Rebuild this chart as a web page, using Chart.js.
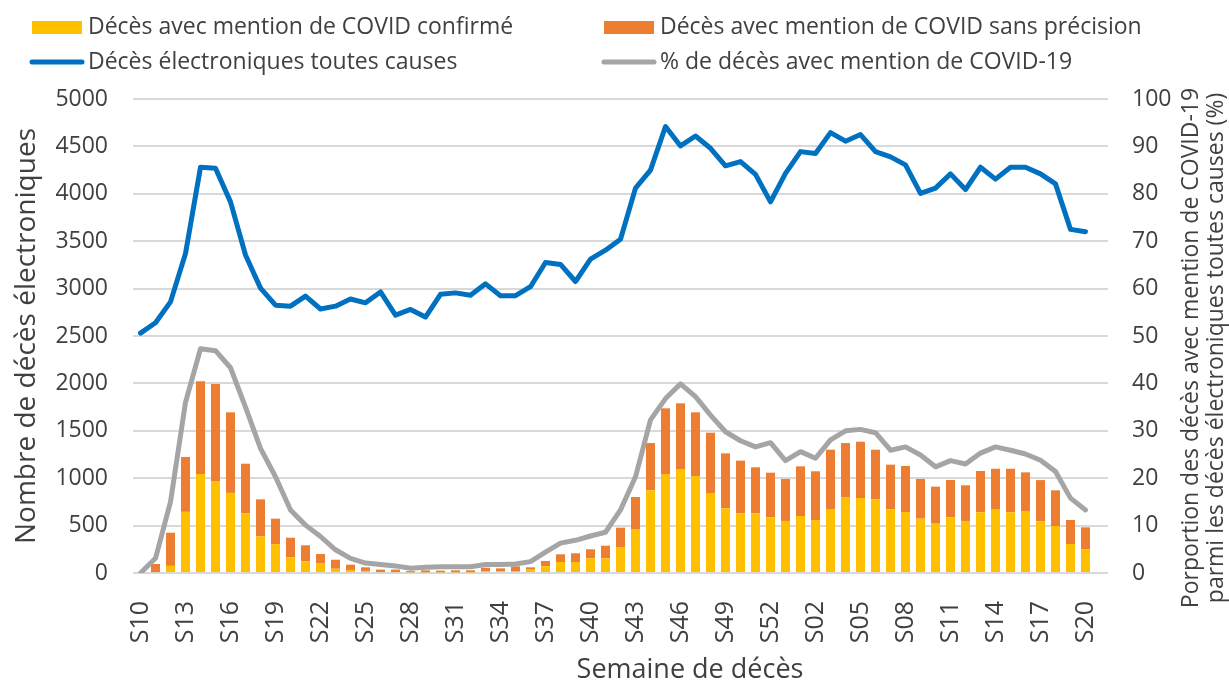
<!DOCTYPE html>
<html lang="fr">
<head>
<meta charset="utf-8">
<title>Décès électroniques et COVID-19</title>
<script src="https://cdn.jsdelivr.net/npm/chart.js@4.4.1/dist/chart.umd.min.js"></script>
<style>
  html, body { margin: 0; padding: 0; background: #fff; }
  #wrap { width: 1229px; height: 685px; }
</style>
</head>
<body>
<div id="wrap"><canvas id="myChart" width="1229" height="685"></canvas></div>
<script>
// semaines de décès : S10 2020 -> S21 2021 (la dernière reste vide)
const semaines = ['S10','S11','S12','S13','S14','S15','S16','S17','S18','S19','S20','S21','S22','S23','S24','S25','S26','S27','S28','S29','S30','S31','S32','S33','S34','S35','S36','S37','S38','S39','S40','S41','S42','S43','S44','S45','S46','S47','S48','S49','S50','S51','S52','S53',
  'S01','S02','S03','S04','S05','S06','S07','S08','S09','S10','S11','S12','S13','S14','S15','S16','S17','S18','S19','S20','S21'];

// décès avec mention de COVID confirmé
const covidConfirme = [0, 10, 75, 645, 1045, 970, 845, 630, 385, 305, 165, 125, 100, 45, 32, 22, 10, 10, 8, 8, 8, 8, 8, 20, 20, 20, 35, 72, 116, 116, 155, 155, 274, 464,
  872, 1044, 1097, 1023, 844, 682, 630, 630, 587, 549, 601, 559, 668, 802, 791, 777, 672, 643, 573, 520, 587, 549, 640, 668, 640, 654, 545, 496, 306, 250, null];

// décès avec mention de COVID sans précision
const covidSansPrecision = [0, 85, 350, 579, 977, 1024, 850, 523, 392, 268, 207, 167, 100, 95, 56, 38, 26, 26, 12, 20, 17, 20, 20, 36, 29, 50, 25, 55, 81, 92, 95, 133, 204, 338,
  499, 693, 693, 672, 636, 580, 555, 485, 471, 443, 524, 514, 633, 569, 594, 524, 471, 486, 419, 391, 394, 376, 436, 432, 460, 408, 435, 376, 253, 232, null];

// décès électroniques toutes causes
const toutesCauses = [2530, 2640, 2860, 3370, 4280, 4270, 3915, 3355, 3005, 2825, 2815, 2920, 2785, 2815, 2890, 2850, 2965, 2720, 2780, 2700, 2940, 2955, 2930, 3050, 2925, 2925, 3020, 3275, 3255, 3075, 3310, 3405, 3520,
  4060, 4250, 4710, 4505, 4610, 4480, 4295, 4340, 4205, 3915, 4215, 4445, 4425, 4645, 4555, 4625, 4445, 4390, 4305, 4005, 4060, 4210, 4045, 4280, 4155, 4280, 4280, 4210, 4105, 3625, 3600, null];

// % de décès avec mention de COVID-19
const pctCovid = [0, 3.1, 15, 36, 47.3, 46.9, 43.3, 35, 26.3, 20.3, 13.3, 10.1, 7.7, 4.9, 3.1, 2.1, 1.8, 1.5, 1.0, 1.2, 1.3, 1.3, 1.3, 1.8, 1.8, 1.9, 2.4, 4.4, 6.3, 6.9, 7.8, 8.6, 13.3,
  20.3, 32.3, 36.8, 39.9, 37.2, 33.3, 29.8, 27.9, 26.6, 27.5, 23.7, 25.6, 24.2, 28.1, 30.0, 30.3, 29.6, 25.9, 26.6, 24.9, 22.4, 23.7, 23.0, 25.3, 26.6, 25.9, 25.1, 23.8, 21.4, 15.8, 13.3, null];

const JAUNE = '#FFC000', ORANGE = '#ED7D31', BLEU = '#0070C0', GRIS = '#A5A5A5';
const TEXTE = '#404040';
const POLICE = "'Open Sans', sans-serif";

// légende sur deux colonnes, dessinée au-dessus du graphique
const legendeItems = [
  { text: 'Décès avec mention de COVID confirmé', color: JAUNE, type: 'box', x: 32, y: 27 },
  { text: 'Décès avec mention de COVID sans précision', color: ORANGE, type: 'box', x: 604, y: 27 },
  { text: 'Décès électroniques toutes causes', color: BLEU, type: 'line', x: 32, y: 62 },
  { text: '% de décès avec mention de COVID-19', color: GRIS, type: 'line', x: 604, y: 62 }
];

const legendePlugin = {
  id: 'legendeColonnes',
  afterDraw(chart) {
    const ctx = chart.ctx;
    ctx.save();
    ctx.font = '23px ' + POLICE;
    ctx.textBaseline = 'middle';
    ctx.textAlign = 'left';
    legendeItems.forEach(it => {
      if (it.type === 'box') {
        ctx.fillStyle = it.color;
        ctx.fillRect(it.x, it.y - 6, 50, 13);
      } else {
        ctx.strokeStyle = it.color;
        ctx.lineWidth = 5;
        ctx.lineCap = 'round';
        ctx.beginPath();
        ctx.moveTo(it.x, it.y);
        ctx.lineTo(it.x + 50, it.y);
        ctx.stroke();
      }
      ctx.fillStyle = TEXTE;
      ctx.fillText(it.text, it.x + 56, it.y);
    });
    ctx.restore();
  }
};

// titre de l'axe de droite (lu de bas en haut) et titre de l'axe des semaines
const titresPlugin = {
  id: 'titres',
  afterDraw(chart) {
    const ctx = chart.ctx;
    const lignes = ['Porportion des décès avec mention de COVID-19', 'parmi les décès électroniques toutes causes (%)'];
    ctx.save();
    ctx.fillStyle = TEXTE;
    ctx.textAlign = 'center';
    ctx.textBaseline = 'middle';
    ctx.font = '23px ' + POLICE;
    lignes.forEach((l, i) => {
      ctx.save();
      ctx.translate(1191 + i * 25, 348);
      ctx.rotate(-Math.PI / 2);
      ctx.fillText(l, 0, 0);
      ctx.restore();
    });
    ctx.font = '27px ' + POLICE;
    ctx.fillText('Semaine de décès', 690, 670);
    ctx.restore();
  }
};

const ctx = document.getElementById('myChart').getContext('2d');
const myChart = new Chart(ctx, {
  type: 'bar',
  data: {
    labels: semaines,
    datasets: [
      {
        type: 'line',
        label: 'Décès électroniques toutes causes',
        data: toutesCauses,
        yAxisID: 'y',
        borderColor: BLEU,
        borderWidth: 5,
        pointRadius: 0,
        tension: 0,
        borderJoinStyle: 'round',
        borderCapStyle: 'round',
        order: 0
      },
      {
        type: 'line',
        label: '% de décès avec mention de COVID-19',
        data: pctCovid,
        yAxisID: 'y2',
        borderColor: GRIS,
        borderWidth: 5,
        pointRadius: 0,
        tension: 0,
        borderJoinStyle: 'round',
        borderCapStyle: 'round',
        order: 0
      },
      {
        label: 'Décès avec mention de COVID confirmé',
        data: covidConfirme,
        backgroundColor: JAUNE,
        yAxisID: 'y',
        stack: 'covid',
        barPercentage: 0.6,
        categoryPercentage: 1,
        order: 1
      },
      {
        label: 'Décès avec mention de COVID sans précision',
        data: covidSansPrecision,
        backgroundColor: ORANGE,
        yAxisID: 'y',
        stack: 'covid',
        barPercentage: 0.6,
        categoryPercentage: 1,
        order: 1
      }
    ]
  },
  options: {
    responsive: false,
    devicePixelRatio: 1,
    animation: false,
    layout: { padding: { top: 99, left: 0, right: 0, bottom: 0 } },
    plugins: {
      legend: { display: false },
      tooltip: { enabled: false },
      title: { display: false }
    },
    scales: {
      x: {
        stacked: true,
        offset: true,
        grid: { display: false, drawTicks: false },
        border: { display: false },
        ticks: {
          autoSkip: false,
          maxRotation: 90,
          minRotation: 90,
          padding: 28,
          color: TEXTE,
          font: { family: POLICE, size: 25 },
          callback: (val, idx) => idx % 3 === 0 ? semaines[idx] : ''
        },
        afterFit(scale) { scale.height = 112; }
      },
      y: {
        position: 'left',
        stacked: true,
        min: 0,
        max: 5000,
        ticks: {
          stepSize: 500,
          padding: 25,
          color: TEXTE,
          font: { family: POLICE, size: 23 },
          callback: v => String(v)
        },
        grid: { color: '#D9D9D9', lineWidth: 2, drawTicks: false },
        border: { display: false },
        title: {
          display: true,
          text: 'Nombre de décès électroniques',
          color: TEXTE,
          font: { family: POLICE, size: 28, lineHeight: 1 },
          padding: { top: 13, bottom: 0 }
        },
        afterFit(scale) { scale.width = 133; }
      },
      y2: {
        position: 'right',
        min: 0,
        max: 100,
        ticks: {
          stepSize: 10,
          padding: 24,
          color: TEXTE,
          font: { family: POLICE, size: 23 }
        },
        grid: { display: false, drawTicks: false },
        border: { display: false },
        afterFit(scale) { scale.width = 121; }
      }
    }
  },
  plugins: [legendePlugin, titresPlugin]
});
</script>
</body>
</html>
